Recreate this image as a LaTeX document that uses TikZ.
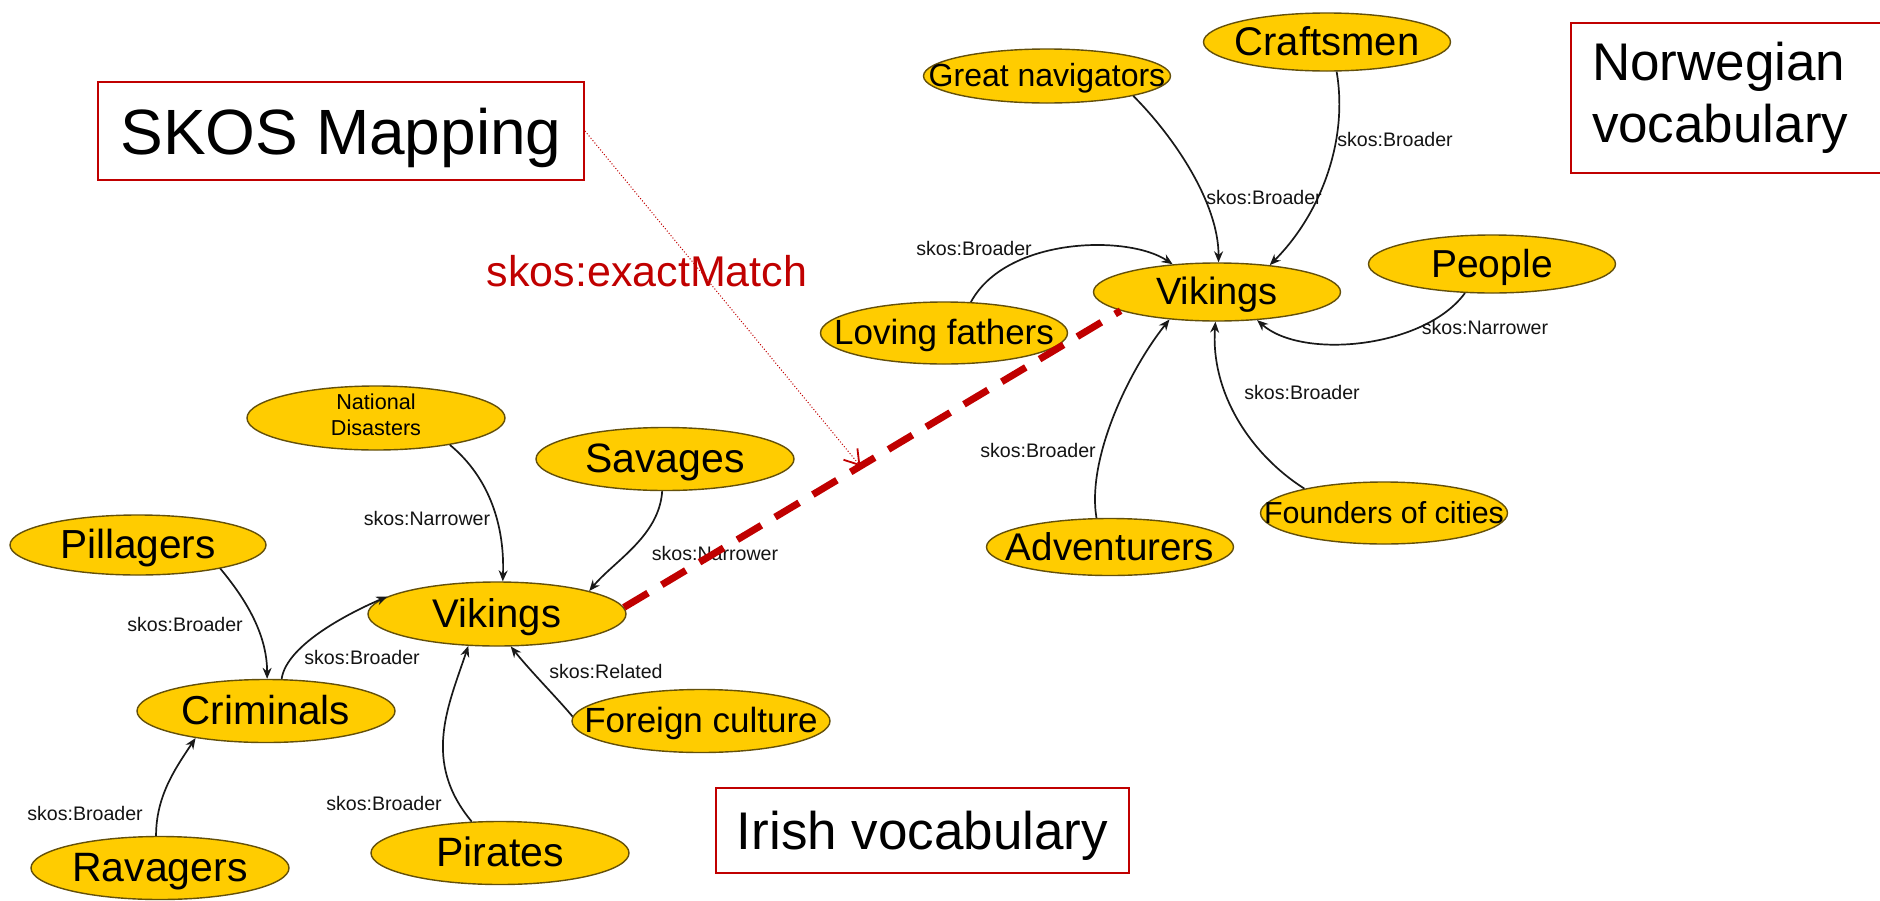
\documentclass[tikz,border=0pt]{standalone}
\usepackage{fontspec}
\setmainfont{Liberation Sans}
\usetikzlibrary{arrows.meta,shapes.geometric,calc}
\definecolor{gold}{RGB}{255,204,0}
\definecolor{goldedge}{RGB}{100,80,10}
\definecolor{mapred}{RGB}{192,0,0}
\newcommand{\elltext}[1]{\makebox[0pt]{\smash{\raisebox{-0.34em}{#1}}}}
\newcommand{\fz}[1]{\fontsize{#1pt}{#1pt}\selectfont}
\begin{document}
\begin{tikzpicture}[x=0.5pt,y=-0.5pt,
  concept/.style={ellipse,fill=gold,draw=goldedge,line width=0.7pt,inner sep=0pt},
  upc/.style={concept,minimum width=123.5pt,minimum height=29pt},
  lowc/.style={concept,minimum width=129pt,minimum height=31.5pt},
  rel/.style={draw=black!90,line width=0.85pt,-{Stealth[length=5.5pt,width=4.5pt]}},
  elab/.style={text=black!92,font=\fz{9.8},inner sep=0pt},
  redbox/.style={draw=mapred,line width=1pt,inner sep=0pt},
  matchline/.style={draw=mapred,line width=3.5pt,dash pattern=on 14pt off 8pt},
  pointer/.style={draw=mapred,line width=0.5pt,densely dotted,-{Straight Barb[length=7pt,width=9pt,line width=0.9pt]}}]
\useasboundingbox (0,0) rectangle (1880,900);
\clip (0,0) rectangle (1880,900);

% title boxes
\node[redbox,minimum width=243pt,minimum height=49pt,text depth=0pt,font=\fz{32}] (skos) at (341,131) {SKOS Mapping};
\node[redbox,anchor=north west,minimum height=75pt,text width=144pt,inner xsep=10.5pt,align=left,font=\fontsize{26.5pt}{31pt}\selectfont] (norw) at (1570,22) {Norwegian\\vocabulary};
\node[redbox,minimum width=206.5pt,minimum height=42.5pt,text depth=0pt,font=\fz{26.5}] (irish) at (922.5,830.5) {Irish vocabulary};
\node[text=mapred,font=\fz{21.5},inner sep=0pt] (exm) at (647,271) {skos:exactMatch};

% Norwegian vocabulary
\node[upc,minimum height=29pt,font=\fz{20}] (craft) at (1327,42) {\elltext{Craftsmen}};
\node[upc,minimum height=27pt,font=\fz{16}] (gn) at (1047,76) {\elltext{Great navigators}};
\node[upc,font=\fz{19}] (vu) at (1217,292) {\elltext{Vikings}};
\node[upc,font=\fz{19.5}] (people) at (1492,264) {\elltext{People}};
\node[upc,minimum height=31pt,font=\fz{17.5}] (lf) at (944,333) {\elltext{Loving fathers}};
\node[upc,minimum height=28.5pt,font=\fz{19.3}] (adv) at (1110,547) {\elltext{Adventurers}};
\node[upc,minimum height=31pt,font=\fz{15.2}] (foc) at (1384,513) {\elltext{Founders of cities}};

% Irish vocabulary
\node[lowc,minimum height=32pt] (nd) at (376,418) {\makebox[0pt]{\smash{\raisebox{-0.25em}{\fontsize{10.8pt}{13pt}\selectfont\begin{tabular}{@{}c@{}}National\\Disasters\end{tabular}}}}};
\node[lowc,font=\fz{20.5}] (sav) at (665,459) {\elltext{Savages}};
\node[lowc,minimum width=128pt,minimum height=30pt,font=\fz{20.3}] (pil) at (138,545) {\elltext{Pillagers}};
\node[lowc,minimum height=32pt,font=\fz{20}] (vl) at (497,614) {\elltext{Vikings}};
\node[lowc,font=\fz{20.2}] (crim) at (266,711) {\elltext{Criminals}};
\node[lowc,font=\fz{17.5}] (fc) at (701,721) {\elltext{Foreign culture}};
\node[lowc,font=\fz{20.5}] (rav) at (160,868) {\elltext{Ravagers}};
\node[lowc,font=\fz{20.5}] (pir) at (500,853) {\elltext{Pirates}};

% Irish relations
\draw[rel] (nd.340) .. controls +(40,33) and +(2,-55) .. (vl.80);
\draw[rel] (sav.265) .. controls +(-3,45) and +(25,-30) .. (vl.14);
\draw[rel] (pil.344) .. controls +(25,30) and +(0,-45) .. (crim.88);
\draw[rel] (crim.64) .. controls +(5,-35) and +(-35,15) .. (vl.171);
\draw[rel] (rav.97) .. controls +(0,-40) and +(-20,30) .. (crim.201);
\draw[rel] (pir.132) .. controls +(-50,-60) and +(-20,60) .. (vl.228);
\draw[rel] (fc.178) .. controls +(-15,-18) and +(20,25) .. (vl.293);

\node[elab] (l1) at (427,518) {skos:Narrower};
\node[elab] (l2) at (715,553) {skos:Narrower};
\node[elab] (l3) at (185,624) {skos:Broader};
\node[elab] (l4) at (362,657) {skos:Broader};
\node[elab] (l5) at (85,813) {skos:Broader};
\node[elab] (l6) at (384,803) {skos:Broader};
\node[elab] (l7) at (606,671) {skos:Related};

% Norwegian relations
\draw[rel] (gn.347) .. controls +(40,40) and +(0,-60) .. (vu.87);
\draw[rel] (craft.288) .. controls +(12,70) and +(50,-50) .. (vu.27);
\draw[rel] (lf.49) .. controls +(35,-65) and +(-45,-30) .. (vu.148);
\draw[rel] (people.227) .. controls +(-40,55) and +(45,40) .. (vu.325);
\draw[rel] (foc.163) .. controls +(-55,-35) and +(-5,70) .. (vu.267);
\draw[rel] (adv.115) .. controls +(-10,-60) and +(-40,50) .. (vu.210);

\node[elab] (l8) at (1264,197) {skos:Broader};
\node[elab] (l9) at (1395,139) {skos:Broader};
\node[elab] (l10) at (974,248) {skos:Broader};
\node[elab] (l11) at (1485,327) {skos:Narrower};
\node[elab] (l12) at (1302,392) {skos:Broader};
\node[elab] (l13) at (1038,450) {skos:Broader};

% mapping
\draw[matchline] (vl.3) -- (vu.191);
\coordinate (mtip) at ($(vl.3)!0.476!(vu.191)$);
\draw[pointer] (skos.east) -- (mtip);
\end{tikzpicture}
\end{document}
